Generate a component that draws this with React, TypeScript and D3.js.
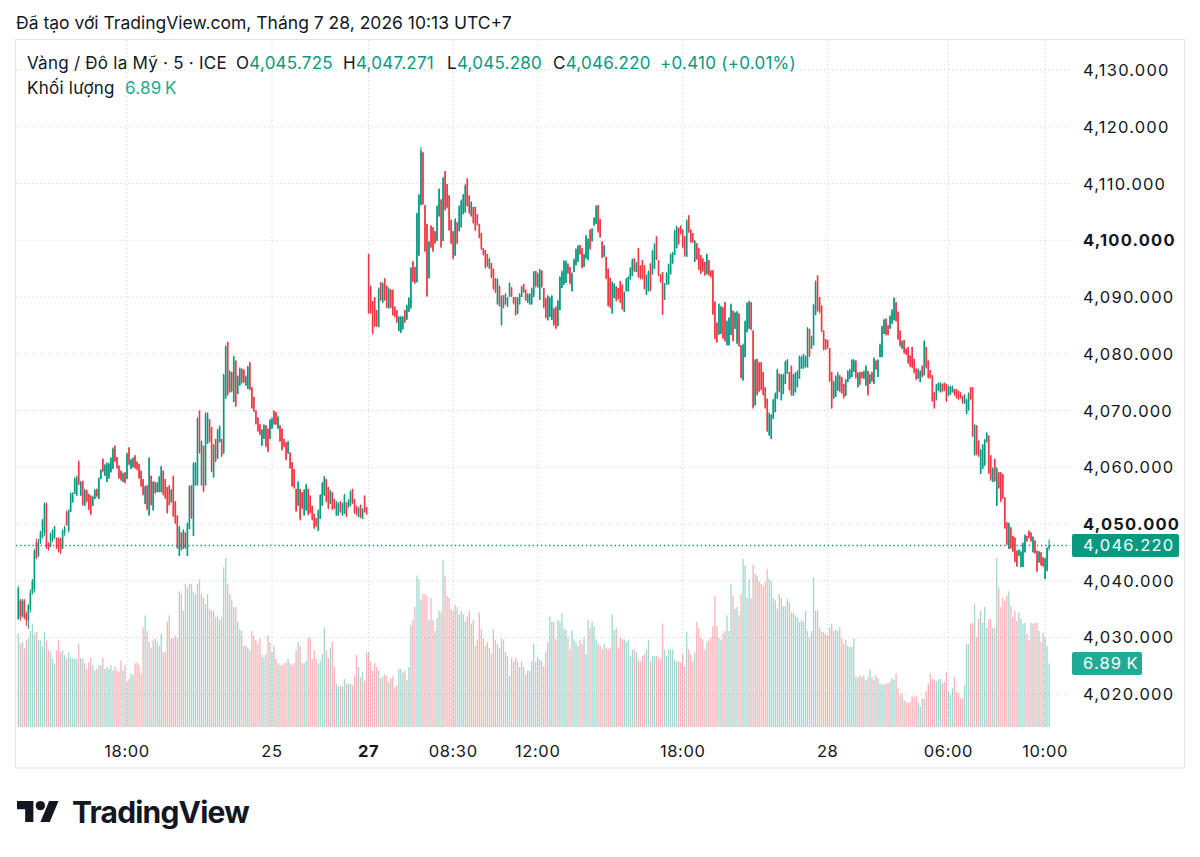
import React from 'react';
import * as d3 from 'd3';

// One 5-minute bar: open, high, low, close, volume (thousands)
type Bar = [number, number, number, number, number];

// Fri 24 Jul 13:30 → Sat 25 Jul 03:55
const sessionJul24: Bar[] = [
  [4033.2,4039.1,4033.2,4038.6,10.1],[4036.5,4036.8,4032.9,4033.5,9.0],[4033.8,4036.8,4033.5,4036.5,9.2],[4036.5,4036.8,4033.2,4033.5,8.5],
  [4034.2,4034.6,4032.0,4033.0,9.4],[4033.0,4035.9,4031.5,4035.6,9.6],[4035.0,4038.5,4034.4,4037.9,10.4],[4037.9,4040.3,4037.6,4040.0,11.2],
  [4038.5,4045.6,4037.9,4045.3,10.1],[4046.8,4047.4,4043.8,4044.0,10.3],[4044.4,4047.4,4044.2,4046.8,9.4],[4046.8,4048.8,4046.5,4048.5,9.4],
  [4047.6,4050.9,4047.4,4050.6,8.8],[4048.5,4053.8,4047.9,4053.6,10.3],[4053.5,4053.8,4045.6,4045.8,9.4],[4046.5,4046.8,4045.3,4045.6,8.3],
  [4046.0,4048.5,4046.0,4048.2,8.1],[4047.2,4049.1,4046.8,4048.9,7.4],[4047.6,4049.7,4047.4,4049.5,6.9],[4047.6,4047.6,4045.6,4045.8,8.3],
  [4047.4,4047.6,4045.0,4045.2,9.4],[4047.4,4047.6,4044.7,4045.0,8.1],[4045.6,4049.1,4045.6,4048.8,8.3],[4048.5,4049.7,4047.9,4049.5,7.8],
  [4052.1,4052.4,4049.7,4049.8,7.4],[4048.8,4052.6,4048.5,4052.4,8.1],[4052.1,4055.6,4052.1,4055.3,7.5],[4053.8,4055.6,4053.8,4055.4,7.4],
  [4055.3,4058.2,4055.3,4058.0,7.4],[4055.0,4058.5,4055.0,4058.2,7.4],[4061.0,4061.2,4056.8,4057.0,9.0],[4055.0,4057.6,4055.0,4057.4,7.5],
  [4057.6,4057.6,4053.2,4053.4,7.4],[4053.2,4056.2,4053.2,4056.0,6.9],[4056.0,4056.0,4053.8,4054.0,6.3],[4055.3,4055.3,4052.4,4052.6,7.0],
  [4055.0,4055.0,4051.5,4051.8,7.5],[4053.2,4055.0,4053.2,4054.8,6.7],[4054.4,4056.2,4054.4,4056.0,6.1],[4056.2,4056.2,4054.7,4054.9,6.3],
  [4054.4,4058.2,4054.4,4058.0,6.7],[4057.9,4059.7,4057.9,4059.5,6.7],[4061.5,4061.5,4059.1,4059.3,7.5],[4058.5,4060.6,4058.5,4060.4,6.3],
  [4057.4,4060.9,4057.4,4060.7,6.5],[4058.0,4060.9,4058.0,4060.6,6.3],[4059.1,4061.8,4059.1,4061.6,6.7],[4059.7,4063.5,4059.7,4063.3,6.1],
  [4063.8,4063.8,4060.9,4061.1,6.5],[4061.8,4061.8,4059.7,4059.9,6.1],[4060.3,4060.3,4057.9,4058.1,6.0],[4059.4,4059.4,4057.6,4057.8,7.2],
  [4057.4,4059.1,4057.4,4058.9,6.1],[4059.1,4059.1,4057.1,4057.3,6.7],[4057.9,4062.6,4057.9,4062.4,4.9],[4063.5,4063.5,4060.3,4060.5,5.2],
  [4059.7,4061.5,4059.7,4061.3,5.8],[4060.0,4061.8,4060.0,4061.6,5.6],[4062.1,4062.1,4059.7,4059.9,6.9],[4061.0,4061.0,4059.4,4059.6,7.0],
  [4060.6,4060.6,4057.9,4058.1,6.7],[4059.4,4059.4,4056.5,4056.7,5.8],[4057.9,4057.9,4055.0,4055.2,10.8],[4053.5,4056.8,4053.5,4056.6,12.1],
  [4056.8,4056.8,4052.4,4052.6,10.4],[4051.5,4061.8,4051.5,4061.6,9.2],[4058.5,4058.5,4053.2,4053.4,8.6],[4052.4,4057.6,4052.4,4057.4,9.4],
  [4057.4,4057.4,4055.3,4055.5,9.6],[4055.6,4057.4,4055.6,4057.2,9.2],[4055.6,4058.5,4055.6,4058.3,8.8],[4055.6,4060.3,4055.6,4060.1,10.1],
  [4059.4,4059.4,4055.0,4055.2,8.1],[4057.9,4057.9,4054.4,4054.6,8.1],[4056.5,4056.5,4051.8,4052.0,11.4],[4056.8,4056.8,4053.2,4053.4,12.1],
  [4053.8,4056.2,4053.8,4056.0,9.6],[4058.5,4058.5,4051.2,4051.4,9.6],[4054.0,4054.0,4050.0,4050.2,9.9],[4051.5,4051.5,4045.6,4045.8,9.6],
  [4044.4,4049.7,4044.4,4049.5,14.7],[4048.5,4048.5,4045.3,4045.5,14.4],[4045.6,4049.1,4045.6,4048.9,12.6],[4048.5,4048.5,4045.6,4045.8,15.5],
  [4044.4,4050.3,4044.4,4050.1,15.1],[4049.1,4056.8,4049.1,4056.6,15.5],[4056.8,4056.8,4050.9,4051.1,15.5],[4047.9,4060.9,4047.9,4060.7,14.7],
  [4056.8,4060.9,4056.8,4060.7,14.4],[4056.8,4068.8,4056.8,4068.6,15.5],[4070.0,4070.0,4062.4,4062.6,16.0],[4056.8,4064.7,4056.8,4064.5,14.4],
  [4063.8,4063.8,4055.6,4055.8,14.0],[4056.8,4069.7,4056.8,4069.5,13.3],[4064.1,4069.7,4064.1,4069.5,14.4],[4068.5,4068.5,4064.4,4064.6,12.8],
  [4067.1,4067.1,4059.1,4059.3,12.6],[4058.2,4064.1,4058.2,4063.9,12.6],[4065.0,4065.0,4060.9,4061.1,11.9],[4061.5,4066.8,4061.5,4066.6,12.1],
  [4064.4,4067.4,4064.4,4067.2,11.6],[4065.0,4065.0,4061.8,4062.0,11.9],[4062.4,4076.5,4062.4,4076.3,17.3],[4072.1,4081.5,4072.1,4081.3,18.3],
  [4082.1,4082.1,4072.6,4072.8,15.5],[4073.2,4077.1,4073.2,4076.9,14.4],[4076.8,4076.8,4073.2,4073.4,13.7],[4071.5,4079.7,4071.5,4079.5,13.0],
  [4078.8,4078.8,4070.6,4070.8,13.0],[4072.9,4076.2,4072.9,4076.0,11.4],[4074.4,4077.6,4074.4,4077.4,10.6],[4077.4,4077.4,4074.7,4074.9,10.4],
  [4077.2,4077.2,4074.8,4075.0,8.8],[4074.4,4076.2,4074.4,4076.0,8.8],[4073.8,4077.9,4073.8,4077.7,8.6],[4078.5,4078.5,4073.5,4073.7,8.3],
  [4074.1,4074.1,4070.3,4070.5,10.4],[4072.4,4072.4,4069.7,4069.9,9.9],[4070.0,4070.0,4067.5,4067.7,9.4],[4068.8,4068.8,4066.2,4066.4,9.0],
  [4067.6,4067.6,4065.6,4065.8,9.6],[4063.8,4066.8,4063.8,4066.6,7.8],[4065.0,4067.6,4065.0,4067.4,7.5],[4067.4,4067.4,4063.5,4063.7,7.9],
  [4066.8,4066.8,4062.6,4062.8,9.9],[4065.0,4068.5,4065.0,4068.3,9.2],[4066.8,4068.8,4066.8,4068.6,8.1],[4070.0,4070.0,4067.4,4067.6,8.8],
  [4069.7,4069.7,4067.4,4067.6,7.4],[4066.8,4069.1,4066.8,4068.9,6.9],[4067.4,4067.4,4064.4,4064.6,6.7],[4066.8,4066.8,4062.9,4063.1,6.7],
  [4065.0,4065.0,4063.5,4063.7,6.9],[4064.4,4064.4,4061.2,4061.4,7.0],[4062.4,4064.7,4062.4,4064.5,7.4],[4062.6,4062.6,4059.7,4059.9,6.9],
  [4060.9,4060.9,4056.5,4056.7,6.7],[4059.7,4059.7,4056.2,4056.4,6.9],[4056.2,4056.2,4052.1,4052.3,8.3],[4053.2,4057.6,4053.2,4057.4,9.2],
  [4056.2,4056.2,4050.6,4050.8,8.8],[4055.6,4055.6,4052.6,4052.8,6.9],[4051.5,4056.2,4051.5,4056.0,6.9],[4052.4,4057.1,4052.4,4056.9,7.2],
  [4056.2,4056.2,4051.5,4051.7,9.6],[4055.0,4055.0,4051.8,4052.0,9.7],[4053.2,4053.2,4050.6,4050.8,7.4],[4051.8,4051.8,4049.1,4049.3,8.3],
  [4051.0,4051.0,4049.5,4049.7,7.4],[4048.8,4052.6,4048.8,4052.4,6.9],[4050.9,4055.3,4050.9,4055.1,7.2],[4053.2,4057.4,4053.2,4057.2,7.9],
  [4055.0,4058.5,4055.0,4058.3,10.8],[4057.9,4057.9,4053.8,4054.0,8.3],[4056.5,4056.5,4052.6,4052.8,7.5],[4053.5,4056.0,4053.5,4055.8,8.6],
  [4055.6,4055.6,4052.4,4052.6,9.2],[4054.4,4054.4,4052.6,4052.8,6.5],[4051.5,4054.1,4051.5,4053.9,4.7],[4051.5,4053.8,4051.5,4053.6,4.4],
  [4054.0,4054.0,4052.0,4052.2,4.5],[4051.5,4053.8,4051.5,4053.6,4.4],[4051.8,4055.3,4051.8,4055.1,5.2],[4053.8,4053.8,4051.2,4051.4,4.7],
  [4052.9,4054.4,4052.9,4054.2,4.7],[4053.2,4055.9,4053.2,4055.7,4.7],[4056.2,4056.2,4053.5,4053.7,4.5],[4054.4,4054.4,4051.8,4052.0,5.6],
  [4053.2,4053.2,4051.5,4051.7,7.8],[4051.2,4053.0,4051.2,4052.8,6.5],[4053.4,4053.4,4051.0,4051.2,5.4],[4050.9,4052.8,4050.9,4052.6,6.0],
  [4055.0,4055.0,4052.0,4052.2,5.0],[4053.0,4053.0,4051.6,4051.8,8.1],
];

// Mon 27 Jul 05:00 → Tue 28 Jul 03:55
const sessionJul27: Bar[] = [
  [4097.6,4097.6,4087.0,4087.2,8.1],[4092.0,4092.0,4087.0,4087.2,7.1],[4089.3,4089.3,4083.4,4083.6,6.1],[4090.0,4090.0,4084.7,4084.9,6.9],
  [4087.7,4087.7,4084.7,4084.9,6.5],[4084.7,4091.7,4084.7,4091.5,6.1],[4092.6,4092.6,4089.3,4089.5,5.3],[4089.0,4092.6,4089.0,4092.4,5.5],
  [4093.3,4093.3,4089.3,4089.5,5.7],[4092.0,4092.0,4088.0,4088.2,5.5],[4088.0,4091.7,4088.0,4091.5,4.9],[4091.3,4091.3,4088.0,4088.2,5.3],
  [4091.3,4091.3,4086.7,4086.9,5.5],[4088.3,4088.3,4086.4,4086.6,4.3],[4087.7,4087.7,4085.4,4085.6,4.5],[4084.0,4086.7,4084.0,4086.5,6.3],
  [4083.7,4086.7,4083.7,4086.5,6.3],[4084.3,4086.7,4084.3,4086.5,5.9],[4087.7,4087.7,4085.4,4085.6,6.1],[4086.0,4088.7,4086.0,4088.5,5.1],
  [4087.4,4090.0,4087.4,4089.8,6.5],[4088.0,4095.3,4088.0,4095.1,11.0],[4096.3,4096.3,4092.6,4092.8,11.6],[4095.3,4095.3,4092.3,4092.5,13.0],
  [4092.6,4104.9,4092.6,4104.7,16.4],[4097.3,4108.2,4097.3,4108.0,16.0],[4106.2,4116.5,4106.2,4115.8,13.8],[4115.5,4115.5,4106.2,4106.4,14.4],
  [4106.2,4106.2,4097.9,4098.1,14.4],[4102.9,4102.9,4090.0,4090.2,14.2],[4093.3,4099.9,4093.3,4099.7,11.6],[4102.6,4102.6,4098.6,4098.8,14.0],
  [4102.3,4102.3,4097.9,4098.1,11.6],[4101.6,4101.6,4099.3,4099.5,10.4],[4099.9,4106.2,4099.9,4106.0,11.8],[4104.2,4109.2,4104.2,4109.0,12.6],
  [4107.2,4107.2,4098.6,4098.8,12.4],[4099.9,4111.2,4099.9,4111.0,18.1],[4112.2,4112.2,4105.2,4105.4,16.4],[4109.9,4109.9,4105.6,4105.8,14.2],
  [4107.9,4107.9,4101.6,4101.8,14.0],[4103.6,4103.6,4099.3,4099.5,12.8],[4101.6,4101.6,4096.6,4096.8,12.6],[4097.3,4103.9,4097.3,4103.7,13.2],
  [4103.2,4103.2,4099.3,4099.5,13.0],[4101.6,4106.2,4101.6,4106.0,12.2],[4102.3,4107.2,4102.3,4107.0,12.6],[4104.6,4108.2,4104.6,4108.0,12.2],
  [4104.9,4109.9,4104.9,4109.7,11.4],[4110.9,4110.9,4105.9,4106.1,12.0],[4107.9,4107.9,4104.6,4104.8,12.6],[4104.2,4106.9,4104.2,4106.7,11.2],
  [4105.9,4105.9,4102.9,4103.1,11.6],[4105.9,4105.9,4101.6,4101.8,8.8],[4104.6,4104.6,4102.6,4102.8,9.4],[4102.9,4102.9,4100.3,4100.5,12.4],
  [4101.3,4101.3,4098.3,4098.5,10.6],[4098.6,4098.6,4097.3,4097.5,9.6],[4098.3,4098.3,4095.0,4095.2,8.8],[4097.6,4097.6,4095.3,4095.5,9.2],
  [4095.0,4096.9,4095.0,4096.7,8.6],[4096.0,4096.0,4093.3,4093.5,7.9],[4095.0,4095.0,4091.3,4091.5,10.6],[4093.3,4093.3,4090.7,4090.9,9.4],
  [4088.7,4093.3,4088.7,4093.1,9.0],[4092.0,4092.0,4088.3,4088.5,8.6],[4085.0,4090.3,4085.0,4090.1,9.6],[4090.3,4090.3,4088.0,4088.2,9.4],
  [4088.7,4090.7,4088.7,4090.5,8.1],[4088.3,4090.0,4088.3,4089.8,7.7],[4090.0,4092.6,4090.0,4092.4,5.5],[4091.7,4091.7,4090.0,4090.2,7.5],
  [4090.0,4090.0,4088.7,4088.9,7.1],[4090.0,4090.0,4086.7,4086.9,7.5],[4087.0,4090.0,4087.0,4089.8,7.1],[4088.7,4090.7,4088.7,4090.5,6.5],
  [4090.0,4092.0,4090.0,4091.8,7.1],[4092.3,4092.3,4090.7,4090.9,6.5],[4091.3,4091.3,4089.3,4089.5,5.7],[4089.0,4090.7,4089.0,4090.5,6.1],
  [4088.7,4090.7,4088.7,4090.5,6.1],[4088.7,4091.7,4088.7,4091.5,7.1],[4090.0,4094.6,4090.0,4094.4,9.0],[4094.6,4094.6,4091.7,4091.9,7.1],
  [4091.7,4094.3,4091.7,4094.1,7.5],
  [4089.5,4095.0,4089.5,4094.8,7.3],[4094.7,4094.7,4091.6,4091.8,7.1],[4091.6,4091.6,4088.0,4088.2,6.6],[4089.8,4089.8,4086.2,4086.4,8.1],
  [4085.9,4090.4,4085.9,4090.2,9.2],[4086.5,4090.1,4086.5,4089.9,12.0],[4086.0,4090.4,4086.0,4090.2,11.4],[4088.0,4088.0,4084.9,4085.1,11.4],
  [4088.3,4088.3,4084.3,4084.5,9.5],[4084.9,4089.5,4084.9,4089.3,11.6],[4087.7,4093.7,4087.7,4093.5,11.4],[4091.6,4094.7,4091.6,4094.5,12.3],
  [4092.2,4096.5,4092.2,4096.3,10.7],[4092.5,4096.5,4092.5,4096.3,10.5],[4095.9,4095.9,4094.0,4094.2,9.7],[4095.3,4095.3,4092.2,4092.4,8.4],
  [4091.0,4094.4,4091.0,4094.2,10.5],[4094.4,4096.8,4094.4,4096.6,9.5],[4095.6,4098.6,4095.6,4098.4,9.2],[4096.2,4099.2,4096.2,4099.0,8.8],
  [4099.2,4099.2,4097.4,4097.6,9.4],[4098.6,4098.6,4095.0,4095.2,9.0],[4095.3,4097.7,4095.3,4097.5,9.7],[4096.8,4101.0,4096.8,4100.8,7.9],
  [4096.5,4100.4,4096.5,4100.2,11.6],[4101.9,4101.9,4098.3,4098.5,10.7],[4099.8,4102.2,4099.8,4102.0,11.4],[4102.6,4104.1,4102.6,4103.9,10.9],
  [4102.9,4106.2,4102.9,4106.0,9.5],[4106.2,4106.2,4101.3,4101.5,9.0],[4103.7,4103.7,4100.4,4100.6,8.8],[4099.8,4099.8,4096.8,4097.0,8.4],
  [4097.1,4099.2,4097.1,4099.0,9.0],[4097.1,4097.1,4093.1,4093.3,8.6],[4095.0,4095.0,4088.3,4088.5,8.4],[4093.4,4093.4,4088.0,4088.2,8.6],
  [4087.1,4092.8,4087.1,4092.6,12.2],[4089.8,4092.5,4089.8,4092.3,10.5],[4091.9,4091.9,4089.2,4089.4,10.7],[4091.6,4091.6,4089.5,4089.7,8.6],
  [4092.8,4092.8,4088.9,4089.1,9.7],[4092.2,4092.2,4087.7,4087.9,9.5],[4087.4,4091.0,4087.4,4090.8,9.5],[4091.0,4093.4,4091.0,4093.2,9.2],
  [4091.0,4093.7,4091.0,4093.5,9.4],[4093.1,4095.3,4093.1,4095.1,7.7],[4093.7,4096.8,4093.7,4096.6,8.4],[4096.8,4096.8,4094.4,4094.6,8.4],
  [4094.4,4096.2,4094.4,4096.0,8.1],[4098.6,4098.6,4093.4,4093.6,7.3],[4095.6,4095.6,4093.1,4093.3,7.1],[4096.5,4096.5,4093.1,4093.3,7.7],
  [4095.6,4095.6,4091.3,4091.5,7.9],[4090.4,4094.0,4090.4,4093.8,8.4],[4091.0,4094.7,4091.0,4094.5,9.4],[4095.9,4095.9,4091.0,4091.2,7.1],
  [4094.0,4098.3,4094.0,4098.1,7.7],[4095.0,4099.5,4095.0,4099.3,7.7],[4100.7,4100.7,4096.5,4096.7,7.7],[4096.5,4096.5,4093.7,4093.9,7.5],
  [4094.0,4094.0,4092.5,4092.7,7.3],[4094.4,4094.4,4086.8,4087.0,11.2],[4089.5,4092.5,4089.5,4092.3,8.4],[4092.2,4094.4,4092.2,4094.2,7.7],
  [4092.2,4095.9,4092.2,4095.7,8.4],[4094.0,4097.7,4094.0,4097.5,8.4],[4095.9,4098.0,4095.9,4097.8,8.4],[4097.4,4101.9,4097.4,4101.7,7.3],
  [4098.6,4102.6,4098.6,4102.4,7.1],[4102.2,4102.2,4099.2,4099.4,7.1],[4102.6,4102.6,4101.0,4101.2,7.0],[4101.9,4101.9,4098.6,4098.8,7.9],
  [4100.7,4100.7,4097.1,4097.3,6.6],[4097.1,4103.7,4097.1,4103.5,10.3],[4104.4,4104.4,4101.3,4101.5,8.4],[4101.9,4101.9,4099.5,4099.7,7.9],
  [4101.3,4101.3,4099.5,4099.7,7.1],[4096.2,4100.1,4096.2,4099.9,8.1],[4099.5,4099.5,4096.5,4096.7,11.4],[4098.6,4098.6,4094.7,4094.9,10.7],
  [4097.4,4097.4,4094.0,4094.2,9.7],[4096.8,4096.8,4094.4,4094.6,9.5],[4096.2,4096.2,4093.7,4093.9,8.4],[4094.0,4097.7,4094.0,4097.5,9.2],
  [4096.5,4096.5,4093.7,4093.9,9.4],[4094.7,4094.7,4093.4,4093.6,9.7],[4094.7,4094.7,4086.8,4087.0,10.9],[4089.2,4089.2,4082.5,4082.7,14.2],
  [4085.5,4085.5,4081.9,4082.1,11.0],[4083.4,4088.9,4083.4,4088.7,9.7],
  [4083.5,4088.5,4083.5,4088.3,9.4],[4088.2,4088.2,4082.6,4082.8,10.1],[4089.1,4089.1,4082.1,4082.3,10.4],[4081.5,4085.9,4081.5,4085.7,12.1],
  [4081.5,4086.5,4081.5,4086.3,10.4],[4083.3,4088.9,4083.3,4088.7,15.5],[4087.6,4087.6,4082.1,4082.3,14.2],[4084.4,4087.4,4084.4,4087.2,12.8],
  [4081.8,4087.6,4081.8,4087.4,13.0],[4087.1,4087.1,4081.2,4081.4,12.1],[4081.5,4081.5,4075.6,4075.8,14.4],[4075.3,4081.8,4075.3,4081.6,18.2],
  [4079.4,4085.9,4079.4,4085.7,17.5],[4083.8,4089.1,4083.8,4088.9,14.0],[4084.4,4089.4,4084.4,4089.2,16.0],[4089.1,4089.1,4084.1,4084.3,13.9],
  [4084.1,4084.1,4070.3,4070.5,17.6],[4070.9,4079.1,4070.9,4078.9,16.6],[4079.1,4079.1,4072.6,4072.8,16.4],[4078.5,4078.5,4073.2,4073.4,15.8],
  [4078.5,4078.5,4073.5,4073.7,15.5],[4076.8,4076.8,4072.6,4072.8,15.3],[4074.1,4074.1,4070.3,4070.5,15.7],[4072.1,4072.1,4066.2,4066.4,17.1],
  [4065.6,4069.7,4065.6,4069.5,16.0],[4065.0,4069.4,4065.0,4069.2,15.8],[4068.5,4072.1,4068.5,4071.9,14.0],[4069.7,4073.2,4069.7,4073.0,13.7],
  [4072.1,4077.4,4072.1,4077.2,12.8],[4076.5,4076.5,4073.2,4073.4,14.4],[4071.8,4076.5,4071.8,4076.3,14.0],[4072.9,4076.5,4072.9,4076.3,13.1],
  [4074.7,4078.8,4074.7,4078.6,13.1],[4076.5,4079.1,4076.5,4078.9,13.9],[4076.8,4076.8,4073.5,4073.7,13.5],[4077.9,4077.9,4072.6,4072.8,12.4],
  [4072.6,4076.5,4072.6,4076.3,12.4],[4073.2,4076.8,4073.2,4076.6,12.1],[4074.1,4077.1,4074.1,4076.9,11.9],[4075.6,4079.7,4075.6,4079.5,11.4],
  [4077.4,4079.7,4077.4,4079.5,11.6],[4077.4,4080.0,4077.4,4079.8,11.4],[4077.6,4079.7,4077.6,4079.5,12.6],[4077.6,4084.7,4077.6,4084.5,10.4],
  [4084.4,4084.4,4079.4,4079.6,9.7],[4080.9,4083.2,4080.9,4083.0,10.4],[4081.5,4088.8,4081.5,4088.6,16.2],[4086.8,4092.9,4086.8,4092.7,12.6],
  [4093.8,4093.8,4087.4,4087.6,12.6],[4090.0,4090.0,4087.1,4087.3,10.8],[4088.5,4088.5,4083.8,4084.0,10.3],[4084.1,4084.1,4080.6,4080.8,10.3],
  [4082.6,4082.6,4080.6,4080.8,10.1],[4082.4,4082.4,4080.9,4081.1,9.9],[4081.0,4081.0,4075.0,4075.2,10.8],[4076.8,4076.8,4070.3,4070.5,11.2],
  [4072.1,4075.3,4072.1,4075.1,10.4],[4072.4,4076.2,4072.4,4076.0,10.6],[4073.5,4076.8,4073.5,4076.6,10.4],[4076.2,4076.2,4073.2,4073.4,10.8],
  [4075.9,4075.9,4072.9,4073.1,9.6],[4074.7,4074.7,4072.1,4072.3,9.0],[4072.6,4075.6,4072.6,4075.4,9.4],[4075.0,4077.1,4075.0,4076.9,8.8],
  [4075.6,4077.4,4075.6,4077.2,8.7],[4075.9,4079.1,4075.9,4078.9,8.7],[4076.8,4079.1,4076.8,4078.9,9.6],[4078.8,4078.8,4075.6,4075.8,5.4],
  [4074.1,4076.8,4074.1,4076.6,5.4],[4076.8,4076.8,4074.4,4074.6,5.6],[4076.8,4076.8,4075.6,4075.8,5.4],[4075.6,4077.1,4075.6,4076.9,5.6],
  [4074.4,4078.0,4074.4,4077.8,5.1],[4077.0,4077.0,4072.6,4072.8,5.4],[4074.7,4076.5,4074.7,4076.3,6.2],[4076.8,4076.8,4075.0,4075.2,5.4],
  [4074.7,4079.4,4074.7,4079.2,5.1],[4078.8,4078.8,4077.1,4077.3,5.6],[4075.9,4079.1,4075.9,4078.9,5.3],[4079.4,4081.8,4079.4,4081.6,4.7],
  [4079.4,4085.0,4079.4,4084.8,4.6],[4083.5,4086.2,4083.5,4086.0,4.6],[4086.2,4086.2,4083.2,4083.4,4.7],[4085.0,4085.0,4083.2,4083.4,4.7],
  [4084.4,4086.8,4084.4,4086.6,4.9],[4085.3,4087.9,4085.3,4087.7,5.3],[4085.9,4090.0,4085.9,4089.8,5.1],
  [4089.1,4089.1,4085.6,4085.8,5.8],[4087.4,4087.4,4082.4,4082.6,4.2],[4084.1,4084.1,4081.2,4081.4,3.5],[4080.9,4082.4,4080.9,4082.2,3.7],
  [4082.4,4082.4,4080.0,4080.2,2.9],[4080.9,4080.9,4079.7,4079.9,2.7],[4081.2,4081.2,4078.2,4078.4,2.6],[4079.7,4079.7,4077.6,4077.8,2.7],
  [4081.2,4081.2,4077.4,4077.6,3.3],[4079.1,4079.1,4076.5,4076.7,3.3],[4077.4,4077.4,4075.3,4075.5,3.3],[4075.6,4077.4,4075.6,4077.2,2.7],
  [4075.0,4077.1,4075.0,4076.9,2.2],[4077.9,4077.9,4075.8,4076.0,3.1],
];

// Tue 28 Jul 05:00 → 10:10
const sessionJul28: Bar[] = [
  [4076.2,4082.4,4076.2,4082.2,3.1],[4081.2,4081.2,4077.4,4077.6,3.9],[4078.8,4078.8,4075.6,4075.8,4.7],[4077.1,4077.1,4075.6,4075.8,5.8],
  [4076.2,4076.2,4071.5,4071.7,5.2],[4073.2,4073.2,4070.3,4070.5,5.1],[4071.8,4074.7,4071.8,4074.5,4.9],[4073.5,4075.0,4073.5,4074.8,5.2],
  [4073.2,4075.0,4073.2,4074.8,5.2],[4074.7,4074.7,4073.2,4073.4,4.7],[4074.9,4074.9,4073.4,4073.6,4.9],[4074.7,4074.7,4071.5,4071.7,5.9],
  [4072.6,4074.4,4072.6,4074.2,3.9],[4072.8,4074.4,4072.8,4074.2,3.5],[4073.2,4074.4,4073.2,4074.2,4.2],[4073.8,4073.8,4072.6,4072.8,5.4],
  [4073.8,4073.8,4072.1,4072.3,3.8],[4073.5,4073.5,4071.8,4072.0,3.7],[4073.2,4073.2,4072.1,4072.3,3.1],[4072.6,4072.6,4071.2,4071.4,3.1],
  [4071.2,4072.9,4071.2,4072.7,4.5],[4069.4,4072.1,4069.4,4071.9,9.0],[4070.0,4073.2,4070.0,4073.0,9.0],[4074.1,4074.1,4071.8,4072.0,11.2],
  [4074.1,4074.1,4065.3,4065.5,11.3],[4062.1,4067.6,4062.1,4067.4,13.3],[4067.4,4067.4,4062.1,4062.3,9.7],[4064.7,4064.7,4061.8,4062.0,11.7],
  [4058.8,4063.2,4058.8,4063.0,12.6],[4059.7,4064.1,4059.7,4063.9,11.3],[4060.3,4065.0,4060.3,4064.8,13.0],[4064.4,4066.2,4064.4,4066.0,10.8],
  [4065.6,4065.6,4058.8,4059.0,11.7],[4062.1,4062.1,4057.6,4057.8,11.7],[4057.4,4060.0,4057.4,4059.8,10.7],[4061.5,4061.5,4057.4,4057.6,10.7],
  [4053.2,4060.0,4053.2,4059.8,18.3],[4059.1,4059.1,4056.2,4056.4,15.1],[4059.1,4059.1,4053.8,4054.0,13.0],[4058.8,4058.8,4054.4,4054.6,14.0],
  [4054.7,4054.7,4049.1,4049.3,13.7],[4050.3,4050.3,4046.2,4046.4,14.2],[4045.6,4050.3,4045.6,4050.1,14.7],[4049.4,4049.4,4045.6,4045.8,13.1],
  [4047.9,4047.9,4045.0,4045.2,11.9],[4047.6,4047.6,4043.2,4043.4,12.6],[4045.3,4045.3,4042.4,4042.6,11.5],[4044.4,4045.6,4044.4,4045.4,12.4],
  [4042.4,4045.3,4042.4,4045.1,11.7],[4042.4,4046.8,4042.4,4046.6,11.2],[4045.0,4048.2,4045.0,4048.0,11.3],[4047.9,4047.9,4046.8,4047.0,10.1],
  [4048.8,4048.8,4047.4,4047.6,9.4],[4048.5,4048.5,4046.8,4047.0,11.3],[4045.0,4047.9,4045.0,4047.7,11.2],[4047.1,4047.1,4044.7,4044.9,11.3],
  [4045.3,4045.3,4041.5,4041.7,11.3],[4043.2,4045.3,4043.2,4045.1,10.4],[4045.0,4045.0,4042.6,4042.8,9.2],[4044.1,4044.1,4042.4,4042.6,10.2],
  [4040.3,4044.1,4040.3,4043.9,9.7],[4041.8,4045.9,4041.6,4045.81,8.8],[4045.725,4047.271,4045.28,4046.22,6.89],
];

// First bar of each session, local time (UTC+7): [day of July, hour, minute]
const sessionOpens: [number, number, number][] = [[24, 13, 30], [27, 5, 0], [28, 5, 0]];

const priceTicks = [4020, 4030, 4040, 4050, 4060, 4070, 4080, 4090, 4100, 4110, 4120, 4130];
const boldPriceTicks = [4050, 4100];

// Time axis marks: [day, hour, minute, text, bold]
const timeTicks: [number, number, number, string, boolean][] = [
  [24, 18, 0, '18:00', false],
  [25, 0, 0, '25', false],
  [27, 5, 0, '27', true],
  [27, 8, 30, '08:30', false],
  [27, 12, 0, '12:00', false],
  [27, 18, 0, '18:00', false],
  [28, 0, 0, '28', false],
  [28, 6, 0, '06:00', false],
  [28, 10, 0, '10:00', false],
];

const UP = '#089981';
const DOWN = '#F23645';
const VOL_LABEL = '#22ab94';
const INK = '#131722';
const GRID = '#d3d6dd';
const FONT = 'Inter, "Noto Sans", sans-serif';

export default function App() {
  const minutesOf = (d: number, h: number, m: number) => d * 1440 + h * 60 + m;

  const sessions = [sessionJul24, sessionJul27, sessionJul28];
  const bars = sessions.flatMap((s, si) => {
    const [d, h, m] = sessionOpens[si];
    const t0 = minutesOf(d, h, m);
    return s.map((b, k) => ({ t: t0 + 5 * k, o: b[0], h: b[1], l: b[2], c: b[3], v: b[4] }));
  });

  const paneLeft = 15;
  const paneRight = 1070;
  const paneTop = 39;
  const paneBottom = 727;

  const x = d3.scaleLinear().domain([0, bars.length - 1]).range([18.3, 1049.1]);
  const y = d3.scaleLinear().domain([4020, 4130]).range([694.2, 70.1]);
  const yVol = d3.scaleLinear().domain([0, 20]).range([paneBottom, 542.4]);

  const last = bars[bars.length - 1];
  const prev = bars[bars.length - 2];
  const fmtP = d3.format(',.3f');
  const change = last.c - prev.c;
  const pct = (change / prev.c) * 100;
  const changeText = `${d3.format('+.3f')(change)} (${d3.format('+.2f')(pct)}%)`;
  const volText = `${last.v.toFixed(2)}\u2009K`;
  const lastCol = last.c >= last.o ? UP : DOWN;

  const tickIndex = (d: number, h: number, m: number) => bars.findIndex((b) => b.t === minutesOf(d, h, m));

  return (
    <div style={{ position: 'absolute', left: 0, top: 0 }}>
      <svg width={1200} height={857} style={{ display: 'block', background: '#ffffff' }} fontFamily={FONT}>
        <rect x={0} y={0} width={1200} height={857} fill="#ffffff" />

        <text x={16} y={29} fontSize={17.5} fill={INK}>
          Đã tạo với TradingView.com, Tháng 7 28, 2026 10:13 UTC+7
        </text>

        <rect x={15.5} y={39.5} width={1169} height={728.5} fill="none" stroke="#e0e3eb" strokeWidth={1} />

        {/* grid */}
        <g>
          {priceTicks.map((p) => (
            <line key={`h${p}`} x1={paneLeft + 1} x2={paneRight} y1={y(p)} y2={y(p)} stroke={GRID} strokeWidth={1} strokeDasharray="1.3 2.7" />
          ))}
          {timeTicks.map(([d, h, m, text]) => {
            const i = tickIndex(d, h, m);
            return (
              <line key={`v${text}${d}`} x1={x(i)} x2={x(i)} y1={paneTop + 1} y2={paneBottom} stroke={GRID} strokeWidth={1} strokeDasharray="1.3 2.7" />
            );
          })}
        </g>

        {/* volume */}
        <g>
          {bars.map((b, i) => (
            <rect
              key={`vol${i}`}
              x={x(i) - 0.65}
              width={1.3}
              y={yVol(b.v)}
              height={yVol(0) - yVol(b.v)}
              fill={b.c >= b.o ? 'rgba(8,153,129,0.38)' : 'rgba(242,54,69,0.38)'}
            />
          ))}
        </g>

        {/* candles */}
        <g>
          {bars.map((b, i) => {
            const col = b.c >= b.o ? UP : DOWN;
            const top = y(Math.max(b.o, b.c));
            const bot = y(Math.min(b.o, b.c));
            return (
              <g key={`c${i}`}>
                <line x1={x(i)} x2={x(i)} y1={y(b.h)} y2={y(b.l)} stroke={col} strokeWidth={1} />
                <rect x={x(i) - 0.8} width={1.6} y={top} height={Math.max(1, bot - top)} fill={col} />
              </g>
            );
          })}
        </g>

        {/* last price line */}
        <line x1={paneLeft + 1} x2={paneRight} y1={y(last.c)} y2={y(last.c)} stroke={UP} strokeWidth={1.4} strokeDasharray="1.4 2.7" />

        {/* price axis */}
        <g fontSize={16.5} fill={INK} letterSpacing={1.2}>
          {priceTicks.map((p) => (
            <text key={`pl${p}`} x={1083} y={y(p)} dominantBaseline="central" fontWeight={boldPriceTicks.includes(p) ? 700 : 400}>
              {fmtP(p)}
            </text>
          ))}
        </g>
        <rect x={1072} y={y(last.c) - 11.5} width={107} height={23} rx={2} fill={lastCol} />
        <text x={1083} y={y(last.c)} dominantBaseline="central" fontSize={16.5} letterSpacing={1.2} fill="#ffffff">
          {fmtP(last.c)}
        </text>
        <rect x={1072} y={yVol(last.v) - 11.5} width={70} height={23} rx={2} fill={VOL_LABEL} />
        <text x={1083} y={yVol(last.v)} dominantBaseline="central" fontSize={16.5} letterSpacing={1.2} fill="#ffffff">
          {volText}
        </text>

        {/* time axis */}
        <g fontSize={16.5} fill={INK} textAnchor="middle" letterSpacing={0.6}>
          {timeTicks.map(([d, h, m, text, bold]) => (
            <text key={`tl${text}${d}`} x={x(tickIndex(d, h, m))} y={750.5} dominantBaseline="central" fontWeight={bold ? 700 : 400}>
              {text}
            </text>
          ))}
        </g>

        {/* legend */}
        <text y={69} fontSize={17} fill={INK} letterSpacing={0.25}>
          <tspan x={27}>Vàng / Đô la Mỹ · 5 · ICE</tspan>
          <tspan x={236}>O</tspan>
          <tspan fill={lastCol}>{fmtP(last.o)}</tspan>
          <tspan x={343}>H</tspan>
          <tspan fill={lastCol}>{fmtP(last.h)}</tspan>
          <tspan x={447}>L</tspan>
          <tspan fill={lastCol}>{fmtP(last.l)}</tspan>
          <tspan x={553}>C</tspan>
          <tspan fill={lastCol}>{fmtP(last.c)}</tspan>
          <tspan x={660} fill={change >= 0 ? UP : DOWN}>{changeText}</tspan>
        </text>
        <text y={94} fontSize={17} fill={INK} letterSpacing={0.25}>
          <tspan x={27}>Khối lượng</tspan>
          <tspan x={125} fill={VOL_LABEL}>{volText}</tspan>
        </text>

        {/* logo */}
        <g transform="translate(17,796.3) scale(1.17)" fill={INK}>
          <path d="M14 22H7V11H0V4h14v18zM28 22h-8l7.5-18h8L28 22z" />
          <circle cx={20} cy={8} r={4} />
        </g>
        <text x={72} y={823} fontSize={30} fontWeight={700} fill={INK} letterSpacing={-0.8}>
          TradingView
        </text>
      </svg>
    </div>
  );
}
